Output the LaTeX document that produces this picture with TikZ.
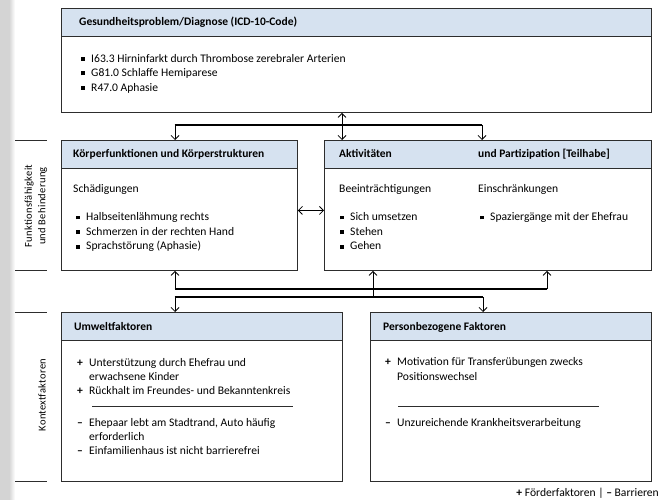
\documentclass[tikz,border=0pt]{standalone}
\usepackage{fontspec}
\setmainfont{Carlito}
\usepackage{tikz}
\usetikzlibrary{arrows.meta,positioning}
\definecolor{headblue}{RGB}{214,226,240}
\definecolor{framegray}{RGB}{45,45,45}
\definecolor{stripgray}{RGB}{212,212,212}

\newcommand\bul{\makebox[10pt][l]{\rule[1.5pt]{4pt}{4pt}}}
\newcommand\pro{\makebox[12pt][l]{\textbf{+}}}
\newcommand\con{\makebox[12pt][l]{\textbf{–}}}
\newcommand\cont{\hspace*{12pt}}

\begin{document}
\begin{tikzpicture}[x=1pt,y=-1pt,
  >={Straight Barb[length=4pt,width=8pt]},
  panel/.style={draw=framegray,line width=0.9pt,fill=white,anchor=north west,inner sep=0pt},
  headbar/.style={draw=framegray,line width=0.9pt,fill=headblue,anchor=north west,inner sep=0pt,minimum height=28pt},
  title/.style={anchor=base west,inner sep=0pt,font=\fontsize{11.5}{13}\selectfont\bfseries},
  entry/.style={anchor=base west,inner sep=0pt,font=\fontsize{11.6}{13}\selectfont},
  bar/.style={line width=2pt},
  arrow/.style={->,line width=0.8pt},
  rule/.style={line width=0.8pt,draw=framegray},
  sidelabel/.style={rotate=90,align=center,inner sep=0pt,font=\fontsize{10.5}{13.5}\selectfont\addfontfeature{LetterSpace=3}}
]
\useasboundingbox (0,0) rectangle (662,500);

% side strip and labels
\fill[stripgray] (0,0) rectangle (9,500);
\shade[left color=stripgray,right color=white] (9,0) rectangle (15,500);
\draw[rule] (15,140) -- (47,140);
\draw[rule] (15,270) -- (47,270);
\draw[rule] (15,312) -- (47,312);
\draw[rule] (15,481) -- (47,481);
\node[sidelabel] (funclabel) at (36,206) {Funktionsfähigkeit\\und Behinderung};
\node[sidelabel] (ctxlabel) at (42,395) {Kontextfaktoren};

% diagnosis
\node[panel,minimum width=590pt,minimum height=104pt] (diag) at (61,8) {};
\node[headbar,minimum width=590pt] (diaghead) at (diag.north west) {};
\node[title] (diagtitle) at (79,25.5) {Gesundheitsproblem/Diagnose (ICD-10-Code)};
\node[entry] (diag1) at (81,62.5) {\bul I63.3 Hirninfarkt durch Thrombose zerebraler Arterien};
\node[entry] (diag2) at (81,77) {\bul G81.0 Schlaffe Hemiparese};
\node[entry] (diag3) at (81,91.5) {\bul R47.0 Aphasie};

% functioning
\node[panel,minimum width=236pt,minimum height=130pt] (body) at (61,140) {};
\node[headbar,minimum width=236pt] (bodyhead) at (body.north west) {};
\node[title] (bodytitle) at (73,158) {Körperfunktionen und Körperstrukturen};
\node[entry] (bodysub) at (73,192.5) {Schädigungen};
\node[entry] (body1) at (76,221) {\bul Halbseitenlähmung rechts};
\node[entry] (body2) at (76,235.5) {\bul Schmerzen in der rechten Hand};
\node[entry] (body3) at (76,250) {\bul Sprachstörung (Aphasie)};

\node[panel,minimum width=327pt,minimum height=130pt] (activ) at (324,140) {};
\node[headbar,minimum width=327pt] (activhead) at (activ.north west) {};
\node[title] (activtitle) at (339,158) {Aktivitäten};
\node[title] (parttitle) at (478,158) {und Partizipation [Teilhabe]};
\node[entry] (activsub) at (339,192.5) {Beeinträchtigungen};
\node[entry] (partsub) at (478,192.5) {Einschränkungen};
\node[entry] (activ1) at (340,221) {\bul Sich umsetzen};
\node[entry] (activ2) at (340,235.5) {\bul Stehen};
\node[entry] (activ3) at (340,250) {\bul Gehen};
\node[entry] (part1) at (480,221) {\bul Spaziergänge mit der Ehefrau};

% context
\node[panel,minimum width=281pt,minimum height=169pt] (envir) at (61,312) {};
\node[headbar,minimum width=281pt] (envirhead) at (envir.north west) {};
\node[title] (envirtitle) at (74,330) {Umweltfaktoren};
\node[entry] (envir1) at (77,366.5) {\pro Unterstützung durch Ehefrau und};
\node[entry] (envir1b) at (77,380.5) {\cont erwachsene Kinder};
\node[entry] (envir2) at (77,394.5) {\pro Rückhalt im Freundes- und Bekanntenkreis};
\draw[rule] (92,406) -- (293,406);
\node[entry] (envir3) at (77,426.5) {\con Ehepaar lebt am Stadtrand, Auto häufig};
\node[entry] (envir3b) at (77,440.5) {\cont erforderlich};
\node[entry] (envir4) at (77,454.5) {\con Einfamilienhaus ist nicht barrierefrei};

\node[panel,minimum width=281pt,minimum height=169pt] (person) at (370,312) {};
\node[headbar,minimum width=281pt] (personhead) at (person.north west) {};
\node[title] (persontitle) at (383,330) {Personbezogene Faktoren};
\node[entry] (person1) at (385,365.5) {\pro Motivation für Transferübungen zwecks};
\node[entry] (person1b) at (385,380) {\cont Positionswechsel};
\draw[rule] (398,406) -- (599,406);
\node[entry] (person2) at (385,426.5) {\con Unzureichende Krankheitsverarbeitung};

\node[entry,anchor=base east] (legend) at (659,496.5) {\textbf{+}\ Förderfaktoren | \textbf{–}\ Barrieren};

% connectors top
\coordinate (topL) at (175,125);
\coordinate (topM) at (342,125);
\coordinate (topR) at (482,125);
\draw[bar] ([xshift=-0.4pt]topL) -- ([xshift=0.4pt]topR);
\draw[arrow] (topL) -- (topL |- body.north);
\draw[arrow] (topR) -- (topR |- activ.north);
\draw[arrow,<->] (topM |- diag.south) -- (topM |- activ.north);
\draw[arrow,<->] ([yshift=-5pt]body.east) -- ([yshift=-5pt]activ.west);

% connectors bottom
\coordinate (upL) at (175,289);
\coordinate (upM) at (373,289);
\coordinate (upR) at (547,289);
\coordinate (dnL) at (175,297);
\coordinate (dnM) at (373,297);
\coordinate (dnR) at (483,297);
\draw[bar] ([xshift=-0.4pt]upL) -- ([xshift=0.4pt]upR);
\draw[bar] ([xshift=-0.4pt]dnL) -- ([xshift=0.4pt]dnR);
\draw[arrow] (upL) -- (upL |- body.south);
\draw[arrow] (upM) -- (upM |- activ.south);
\draw[arrow] (upR) -- (upR |- activ.south);
\draw[line width=0.8pt] (upM) -- (dnM);
\draw[arrow] (dnL) -- (dnL |- envir.north);
\draw[arrow] (dnR) -- (dnR |- person.north);
\end{tikzpicture}
\end{document}
